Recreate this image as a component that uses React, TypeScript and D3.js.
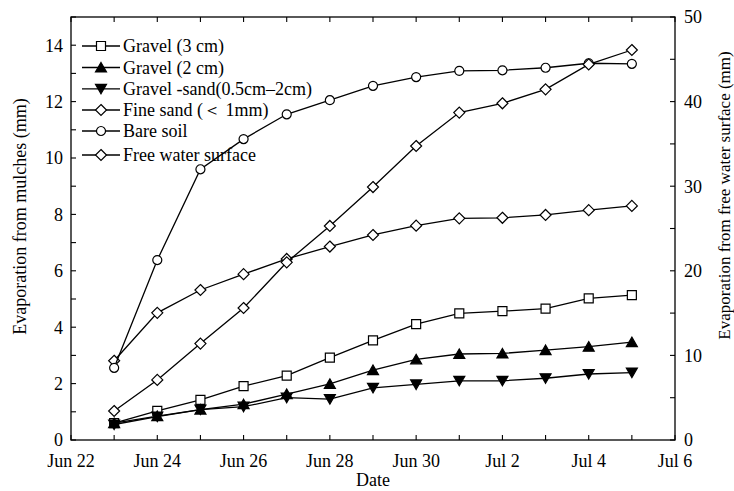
import * as React from 'react';
import * as d3 from 'd3';

// days of observation (June 23 .. July 5)
const dates = ['06-23', '06-24', '06-25', '06-26', '06-27', '06-28', '06-29', '06-30', '07-01', '07-02', '07-03', '07-04', '07-05'];

const gravel3 = [0.6, 1.03, 1.42, 1.91, 2.28, 2.92, 3.53, 4.11, 4.49, 4.57, 4.66, 5.02, 5.14];
const gravel2 = [0.6, 0.85, 1.08, 1.27, 1.63, 1.99, 2.48, 2.86, 3.05, 3.07, 3.19, 3.31, 3.47];
const gravelSand = [0.55, 0.83, 1.08, 1.18, 1.5, 1.45, 1.85, 1.97, 2.1, 2.1, 2.19, 2.34, 2.39];
const fineSand = [2.81, 4.51, 5.32, 5.88, 6.42, 6.86, 7.27, 7.6, 7.86, 7.88, 7.98, 8.15, 8.3];
const bareSoil = [2.56, 6.38, 9.6, 10.67, 11.55, 12.05, 12.56, 12.87, 13.09, 13.11, 13.2, 13.36, 13.34];
const freeWater = [3.43, 7.1, 11.4, 15.6, 21.0, 25.3, 29.9, 34.75, 38.7, 39.8, 41.45, 44.4, 46.1];

const leftTicks = [0, 2, 4, 6, 8, 10, 12, 14];
const rightTicks = [0, 10, 20, 30, 40, 50];

type Marker = 'square' | 'up' | 'down' | 'diamond' | 'circle';

const series: { name: string; values: number[]; marker: Marker; axis: 'left' | 'right' }[] = [
  { name: 'Gravel (3 cm)', values: gravel3, marker: 'square', axis: 'left' },
  { name: 'Gravel (2 cm)', values: gravel2, marker: 'up', axis: 'left' },
  { name: 'Gravel -sand(0.5cm\u20132cm)', values: gravelSand, marker: 'down', axis: 'left' },
  { name: 'Fine sand (\uFF1C 1mm)', values: fineSand, marker: 'diamond', axis: 'left' },
  { name: 'Bare soil', values: bareSoil, marker: 'circle', axis: 'left' },
  { name: 'Free water surface', values: freeWater, marker: 'diamond', axis: 'right' },
];

const W = 734;
const H = 491;
const m = { top: 17, right: 59, bottom: 51, left: 71 };
const iw = W - m.left - m.right;
const ih = H - m.top - m.bottom;
const FONT = "'Liberation Serif', 'DejaVu Serif', serif";

const toDate = (s: string) => new Date(2000, +s.slice(0, 2) - 1, +s.slice(3));

const x = d3.scaleTime().domain([new Date(2000, 5, 22), new Date(2000, 6, 6)]).range([0, iw]);
const yL = d3.scaleLinear().domain([0, 15]).range([ih, 0]);
const yR = d3.scaleLinear().domain([0, 50]).range([ih, 0]);
const fmt = d3.timeFormat('%b %-d');

function markerPath(type: Marker) {
  switch (type) {
    case 'square':
      return 'M-4.5,-4.5H4.5V4.5H-4.5Z';
    case 'up':
      return 'M0,-5L5.5,4.5H-5.5Z';
    case 'down':
      return 'M0,5L5.5,-4.5H-5.5Z';
    case 'diamond':
      return 'M0,-5.5L5.5,0L0,5.5L-5.5,0Z';
    default:
      return d3.symbol(d3.symbolCircle, 64)() || '';
  }
}

const filled = (t: Marker) => t === 'up' || t === 'down';

const App: React.FC = () => {
  const days = x.ticks(d3.timeDay.every(1)!);
  const lineL = d3.line<number>().x((_, i) => x(toDate(dates[i]))).y(d => yL(d));
  const lineR = d3.line<number>().x((_, i) => x(toDate(dates[i]))).y(d => yR(d));
  const legendY = [46, 67.5, 88.8, 110, 131, 155];

  return (
    <svg width={W} height={H} style={{ position: 'absolute', left: 0, top: 0, background: '#fff', fontFamily: FONT }}>
      <g transform={`translate(${m.left},${m.top})`}>
        {/* frame */}
        <rect x={0} y={0} width={iw} height={ih} fill="none" stroke="#000" strokeWidth={1.3} />

        {/* date ticks, top and bottom, inward */}
        {days.map((d, i) => (
          <g key={i}>
            <line x1={x(d)} x2={x(d)} y1={ih} y2={ih - 5} stroke="#000" strokeWidth={1.1} />
            <line x1={x(d)} x2={x(d)} y1={0} y2={5} stroke="#000" strokeWidth={1.1} />
            {i % 2 === 0 && (
              <text x={x(d)} y={ih + 27} textAnchor="middle" fontSize={18}>{fmt(d)}</text>
            )}
          </g>
        ))}

        {/* left axis */}
        {d3.range(0, 16).map(v => (
          <line key={v} x1={0} x2={5} y1={yL(v)} y2={yL(v)} stroke="#000" strokeWidth={1.1} />
        ))}
        {leftTicks.map(v => (
          <text key={v} x={-8} y={yL(v)} dy="0.35em" textAnchor="end" fontSize={18}>{v}</text>
        ))}

        {/* right axis */}
        {d3.range(0, 55, 5).map(v => (
          <line key={v} x1={iw} x2={iw - 5} y1={yR(v)} y2={yR(v)} stroke="#000" strokeWidth={1.1} />
        ))}
        {rightTicks.map(v => (
          <text key={v} x={iw + 9} y={yR(v)} dy="0.35em" textAnchor="start" fontSize={18}>{v}</text>
        ))}

        {/* series */}
        {series.map((s, si) => (
          <g key={si}>
            <path d={(s.axis === 'left' ? lineL : lineR)(s.values) || ''} fill="none" stroke="#000" strokeWidth={1.3} />
            {s.values.map((v, i) => (
              <path
                key={i}
                d={markerPath(s.marker)}
                transform={`translate(${x(toDate(dates[i]))},${(s.axis === 'left' ? yL : yR)(v)})`}
                fill={filled(s.marker) ? '#000' : '#fff'}
                stroke="#000"
                strokeWidth={1.2}
              />
            ))}
          </g>
        ))}
      </g>

      {/* legend */}
      {series.map((s, i) => (
        <g key={i} transform={`translate(0,${legendY[i]})`}>
          <line x1={82} x2={120} y1={0} y2={0} stroke="#000" strokeWidth={1.3} />
          <path d={markerPath(s.marker)} transform="translate(101,0)" fill={filled(s.marker) ? '#000' : '#fff'} stroke="#000" strokeWidth={1.2} />
          <text x={123} y={0} dy="0.35em" fontSize={18}>{s.name}</text>
        </g>
      ))}

      {/* axis titles */}
      <text x={m.left + iw / 2} y={H - 5} textAnchor="middle" fontSize={18}>Date</text>
      <text transform={`translate(26,${m.top + ih / 2 - 12}) rotate(-90)`} textAnchor="middle" fontSize={18}>
        Evaporation from mulches (mm)
      </text>
      <text transform={`translate(724,${m.top + ih / 2 - 33}) rotate(-90)`} textAnchor="middle" dy="0.35em" fontSize={17}>
        Evaporation from free water surface (mm)
      </text>
    </svg>
  );
};

export default App;
